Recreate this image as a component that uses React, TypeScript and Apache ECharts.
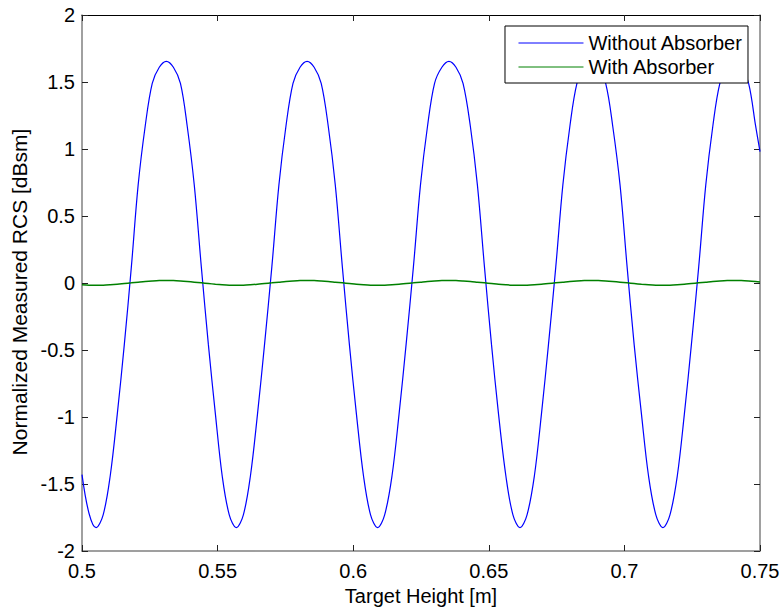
import React, { useEffect, useRef } from "react";
import * as echarts from "echarts";

// Target height [m] sample positions
const heights: number[] = [
  0.5, 0.5026,
  0.5052, 0.5078, 0.5104, 0.513, 0.5156, 0.5182, 0.5207, 0.5233, 0.5259, 0.5285,
  0.5311, 0.5337, 0.5363, 0.5388, 0.5414, 0.544, 0.5466, 0.5492, 0.5517, 0.5543,
  0.5569, 0.5595, 0.5621, 0.5647, 0.5673, 0.57, 0.5726, 0.5752, 0.5778, 0.5804,
  0.583, 0.5856, 0.5882, 0.5908, 0.5934, 0.596, 0.5986, 0.6012, 0.6038, 0.6064,
  0.609, 0.6116, 0.6143, 0.6169, 0.6195, 0.6222, 0.6248, 0.6274, 0.63, 0.6327,
  0.6353, 0.6379, 0.6405, 0.6432, 0.6458, 0.6484, 0.651, 0.6536, 0.6563, 0.6589,
  0.6615, 0.6641, 0.6668, 0.6694, 0.672, 0.6747, 0.6773, 0.6799, 0.6825, 0.6852,
  0.6878, 0.6904, 0.6931, 0.6957, 0.6984, 0.701, 0.7036, 0.7063, 0.7089, 0.7116,
  0.7142, 0.7168, 0.7195, 0.7221, 0.7247, 0.7274, 0.73, 0.7326, 0.7352, 0.7379,
  0.7405, 0.7431, 0.7458, 0.7484, 0.75,
];

// Without Absorber [dBsm]
const withoutAbsorber: number[] = [
  -1.43, -1.72,
  -1.826, -1.73, -1.44, -0.98, -0.46, 0.12, 0.73, 1.17, 1.49, 1.61,
  1.654, 1.61, 1.49, 1.17, 0.73, 0.12, -0.46, -0.98, -1.44, -1.73,
  -1.826, -1.73, -1.44, -0.98, -0.46, 0.12, 0.73, 1.17, 1.49, 1.61,
  1.654, 1.61, 1.49, 1.17, 0.73, 0.12, -0.46, -0.98, -1.44, -1.73,
  -1.826, -1.73, -1.44, -0.98, -0.46, 0.12, 0.73, 1.17, 1.49, 1.61,
  1.654, 1.61, 1.49, 1.17, 0.73, 0.12, -0.46, -0.98, -1.44, -1.73,
  -1.826, -1.73, -1.44, -0.98, -0.46, 0.12, 0.73, 1.17, 1.49, 1.61,
  1.654, 1.61, 1.49, 1.17, 0.73, 0.12, -0.46, -0.98, -1.44, -1.73,
  -1.826, -1.73, -1.44, -0.98, -0.46, 0.12, 0.73, 1.17, 1.49, 1.61,
  1.654, 1.61, 1.49, 1.17, 0.98,
];

// With Absorber [dBsm]
const withAbsorber: number[] = [
  -0.013, -0.016,
  -0.017, -0.016, -0.013, -0.009, -0.004, 0.001, 0.006, 0.011, 0.015, 0.018,
  0.019, 0.018, 0.015, 0.011, 0.006, 0.001, -0.004, -0.009, -0.013, -0.016,
  -0.017, -0.016, -0.013, -0.009, -0.004, 0.001, 0.006, 0.011, 0.015, 0.018,
  0.019, 0.018, 0.015, 0.011, 0.006, 0.001, -0.004, -0.009, -0.013, -0.016,
  -0.017, -0.016, -0.013, -0.009, -0.004, 0.001, 0.006, 0.011, 0.015, 0.018,
  0.019, 0.018, 0.015, 0.011, 0.006, 0.001, -0.004, -0.009, -0.013, -0.016,
  -0.017, -0.016, -0.013, -0.009, -0.004, 0.001, 0.006, 0.011, 0.015, 0.018,
  0.019, 0.018, 0.015, 0.011, 0.006, 0.001, -0.004, -0.009, -0.013, -0.016,
  -0.017, -0.016, -0.013, -0.009, -0.004, 0.001, 0.006, 0.011, 0.015, 0.018,
  0.019, 0.018, 0.015, 0.011, 0.008,
];

const seriesNames = ["Without Absorber", "With Absorber"];
const xTitle = "Target Height [m]";
const yTitle = "Normalized Measured RCS [dBsm]";

const FONT = "'Liberation Sans', Arial, Helvetica, sans-serif";

export default function App() {
  const ref = useRef<HTMLDivElement>(null);

  useEffect(() => {
    if (!ref.current) return;
    const chart = echarts.init(ref.current, undefined, { renderer: "svg" });

    const xBase = {
      type: "value" as const,
      min: 0.5,
      max: 0.75,
      interval: 0.05,
      splitLine: { show: false },
      axisTick: { show: true, inside: true, length: 6, lineStyle: { color: "#222", width: 1 } },
    };
    const yBase = {
      type: "value" as const,
      min: -2,
      max: 2,
      interval: 0.5,
      splitLine: { show: false },
      axisTick: { show: true, inside: true, length: 6, lineStyle: { color: "#222", width: 1 } },
    };

    chart.setOption({
      animation: false,
      backgroundColor: "#ffffff",
      grid: { left: 82, right: 24, top: 15, bottom: 61, containLabel: false },
      legend: {
        data: seriesNames,
        orient: "vertical",
        right: 36,
        top: 26,
        align: "left",
        itemWidth: 65,
        itemHeight: 2,
        itemGap: 4,
        padding: [7, 5, 6, 13],
        backgroundColor: "#ffffff",
        borderColor: "#000000",
        borderWidth: 1,
        borderRadius: 0,
        itemStyle: { opacity: 0 },
        lineStyle: { width: 1 },
        textStyle: { fontSize: 20, color: "#000", fontFamily: FONT },
      },
      xAxis: [
        {
          ...xBase,
          position: "bottom",
          name: xTitle,
          nameLocation: "middle",
          nameGap: 32,
          nameTextStyle: { fontSize: 20, color: "#000", fontFamily: FONT },
          axisLine: { show: true, onZero: false, lineStyle: { color: "#808080", width: 1.5 } },
          axisLabel: { fontSize: 20, color: "#000", margin: 10, fontFamily: FONT },
        },
        {
          ...xBase,
          position: "top",
          axisLine: { show: true, onZero: false, lineStyle: { color: "#000", width: 1 } },
          axisLabel: { show: false },
        },
      ],
      yAxis: [
        {
          ...yBase,
          position: "left",
          name: yTitle,
          nameLocation: "middle",
          nameGap: 48,
          nameTextStyle: { fontSize: 21, color: "#000", fontFamily: FONT, padding: [0, 18, 0, 0] },
          axisLine: { show: true, onZero: false, lineStyle: { color: "#808080", width: 1.5 } },
          axisLabel: { fontSize: 20, color: "#000", margin: 7, fontFamily: FONT },
        },
        {
          ...yBase,
          position: "right",
          axisLine: { show: true, onZero: false, lineStyle: { color: "#808080", width: 1.5 } },
          axisLabel: { show: false },
        },
      ],
      series: [
        {
          name: seriesNames[0],
          type: "line",
          xAxisIndex: 0,
          yAxisIndex: 0,
          data: heights.map((h, i) => [h, withoutAbsorber[i]]),
          symbol: "none",
          showSymbol: false,
          smooth: 0.35,
          lineStyle: { color: "#0000ff", width: 1.2 },
          itemStyle: { color: "#0000ff" },
        },
        {
          name: seriesNames[1],
          type: "line",
          xAxisIndex: 0,
          yAxisIndex: 0,
          data: heights.map((h, i) => [h, withAbsorber[i]]),
          symbol: "none",
          showSymbol: false,
          smooth: 0.35,
          lineStyle: { color: "#008000", width: 1.5 },
          itemStyle: { color: "#008000" },
        },
      ],
    });

    return () => chart.dispose();
  }, []);

  return (
    <div
      ref={ref}
      style={{ position: "fixed", left: 0, top: 0, width: 784, height: 612, background: "#fff" }}
    />
  );
}
